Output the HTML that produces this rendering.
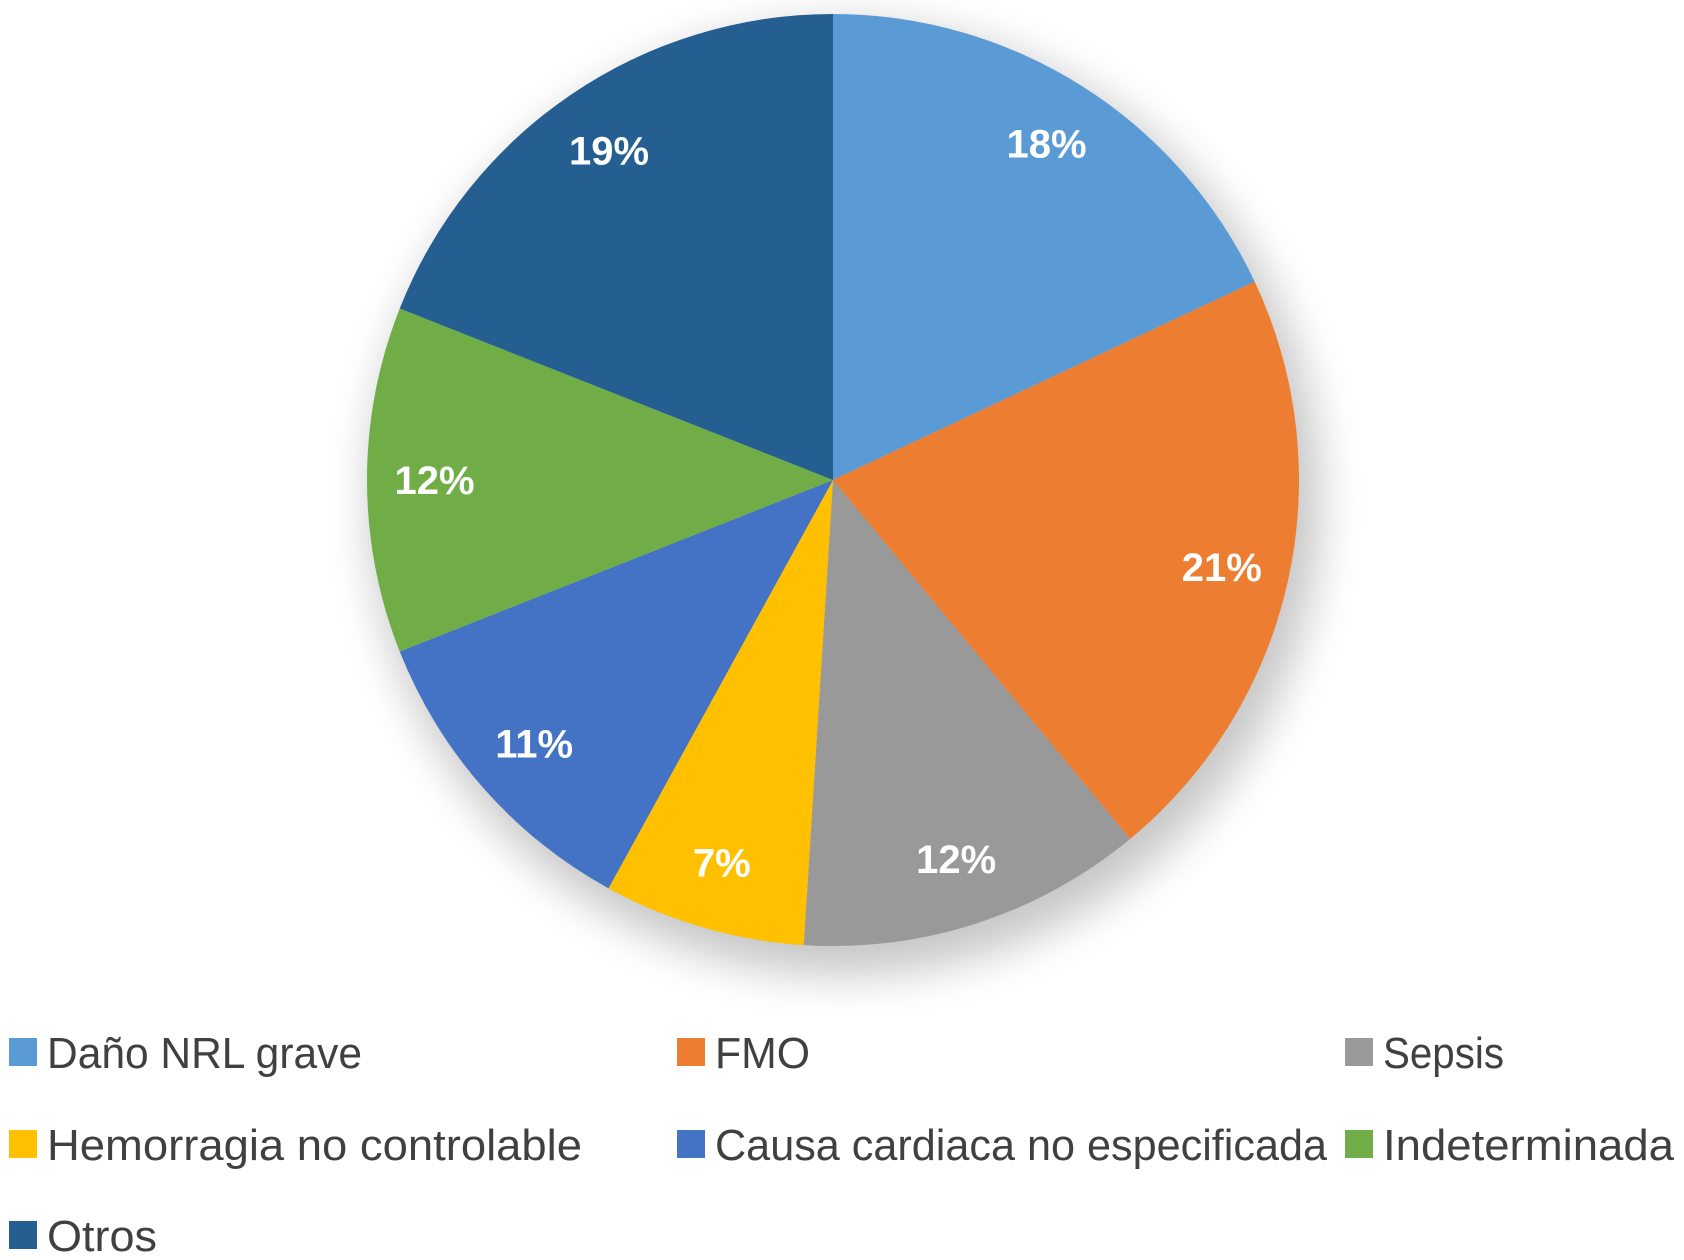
<!DOCTYPE html>
<html><head><meta charset="utf-8">
<style>
html,body{margin:0;padding:0;background:#fff;}
svg{display:block;}
</style></head>
<body>
<svg id="chart" width="1684" height="1260" viewBox="0 0 1684 1260" xmlns="http://www.w3.org/2000/svg">
<defs>
<filter id="shadow" x="-30%" y="-30%" width="160%" height="160%">
<feGaussianBlur stdDeviation="22"/>
</filter>
</defs>
<circle cx="845" cy="500" r="475" fill="#000" opacity="0.22" filter="url(#shadow)"/>
<g id="slices"></g>
<g id="labels"></g>
<g id="legend"></g>
</svg>
<script>
const categories = ["Daño NRL grave","FMO","Sepsis","Hemorragia no controlable","Causa cardiaca no especificada","Indeterminada","Otros"];
const values = [18,21,12,7,11,12,19];
const valueLabels = ["18%","21%","12%","7%","11%","12%","19%"];
const colors = ["#5B9BD5","#ED7D31","#999999","#FFC000","#4472C4","#70AD47","#255E91"];

const NS="http://www.w3.org/2000/svg";
const cx=833, cy=480, R=466;
const total=values.reduce((a,b)=>a+b,0);
function pt(frac,r){const a=frac*2*Math.PI;return [cx+r*Math.sin(a), cy-r*Math.cos(a)];}
const gS=document.getElementById('slices'), gL=document.getElementById('labels'), gLeg=document.getElementById('legend');
let acc=0;
values.forEach((v,i)=>{
  const f0=acc/total, f1=(acc+v)/total; acc+=v;
  const [x0,y0]=pt(f0,R),[x1,y1]=pt(f1,R);
  const large=(f1-f0)>0.5?1:0;
  const p=document.createElementNS(NS,'path');
  p.setAttribute('d',`M${cx},${cy} L${x0},${y0} A${R},${R} 0 ${large} 1 ${x1},${y1} Z`);
  p.setAttribute('fill',colors[i]);
  
  
  gS.appendChild(p);
  const [lx,ly]=pt((f0+f1)/2,R*0.855);
  const t=document.createElementNS(NS,'text');
  t.setAttribute('x',lx);t.setAttribute('y',ly+14);
  t.setAttribute('text-anchor','middle');
  t.setAttribute('font-family','Liberation Sans, sans-serif');
  t.setAttribute('font-weight','bold');
  t.setAttribute('font-size','40');
  t.setAttribute('fill','#fff');
  t.textContent=valueLabels[i];
  
  
  gL.appendChild(t);
});
const colX=[9,677,1345], rowY=[1052,1144,1235];
const widths=[315,95,121,535,612,291,110];
categories.forEach((c,i)=>{
  const col=i%3,row=Math.floor(i/3);
  const g=document.createElementNS(NS,'g');
  
  
  const r=document.createElementNS(NS,'rect');
  r.setAttribute('x',colX[col]);r.setAttribute('y',rowY[row]-14);
  r.setAttribute('width',28);r.setAttribute('height',28);
  r.setAttribute('fill',colors[i]);
  
  
  g.appendChild(r);
  const t=document.createElementNS(NS,'text');
  t.setAttribute('x',colX[col]+38);t.setAttribute('y',rowY[row]+16);
  t.setAttribute('font-family','Liberation Sans, sans-serif');
  t.setAttribute('font-size','44');
  t.setAttribute('fill','#404040');
  t.setAttribute('textLength',widths[i]);
  t.setAttribute('lengthAdjust','spacingAndGlyphs');
  t.textContent=c;
  
  
  g.appendChild(t);
  gLeg.appendChild(g);
});
</script>
</body></html>
